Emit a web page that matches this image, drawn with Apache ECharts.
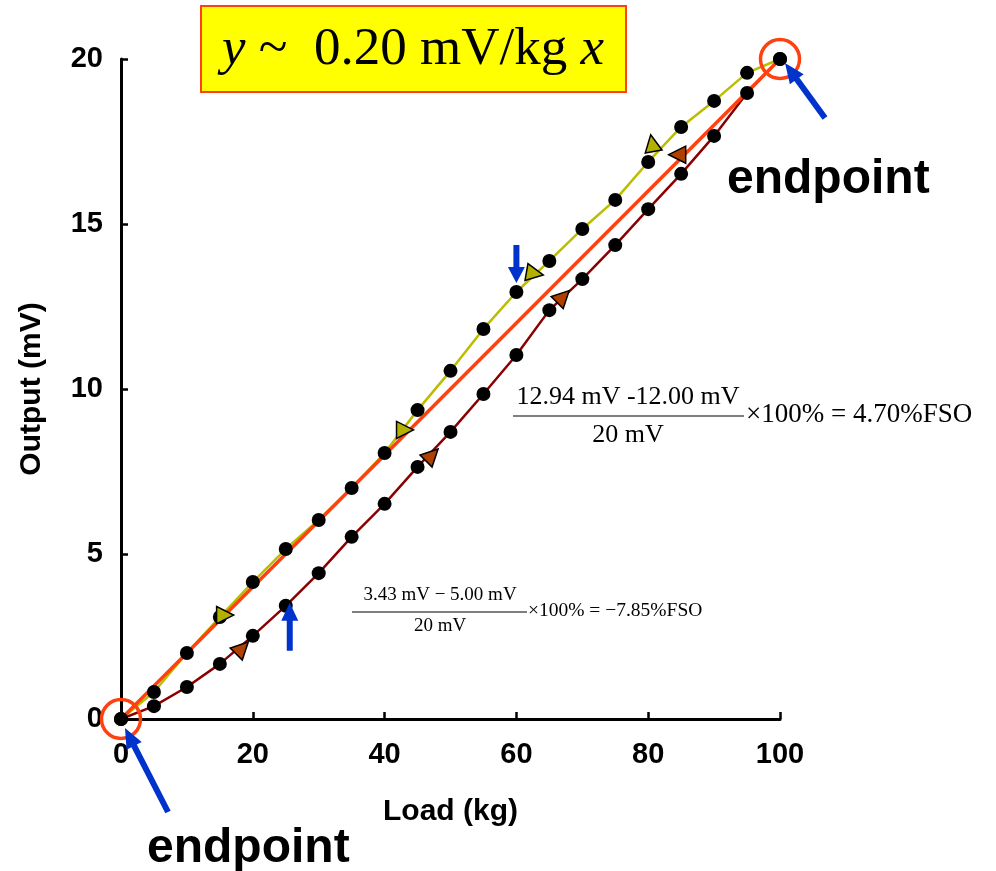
<!DOCTYPE html>
<html>
<head>
<meta charset="utf-8">
<script src="https://cdn.jsdelivr.net/npm/echarts@6/dist/echarts.min.js"></script>
<style>
html,body{margin:0;padding:0;background:#fff;}
#main{width:996px;height:871px;}
</style>
</head>
<body>
<div id="main"></div>
<script>
// load steps (kg)
var loads = [0, 5, 10, 15, 20, 25, 30, 35, 40, 45, 50, 55, 60, 65, 70, 75, 80, 85, 90, 95, 100];
// upper branch (mV)
var upperOutput = [0, 0.82, 2.0, 3.09, 4.15, 5.15, 6.03, 7.0, 8.06, 9.36, 10.55, 11.82, 12.94, 13.88, 14.85, 15.73, 16.88, 17.94, 18.73, 19.58, 20];
// lower branch (mV)
var lowerOutput = [0, 0.39, 0.97, 1.67, 2.52, 3.43, 4.42, 5.52, 6.52, 7.64, 8.70, 9.85, 11.03, 12.39, 13.33, 14.36, 15.45, 16.52, 17.67, 18.97, 20];
// end point fit line
var fitX = [0, 100];
var fitY = [0, 20];
// direction triangles
var upperArrowX = [15.8, 43.1, 62.8, 80.6];
var upperArrowY = [3.15, 8.76, 13.5, 17.45];
var upperArrowRot = [-90, -90, -100, 10];
var lowerArrowX = [18.4, 47.2, 67.1, 84.4];
var lowerArrowY = [2.15, 8.0, 12.8, 17.1];
var lowerArrowRot = [-45, -45, -45, 90];
var xTicks = [0, 20, 40, 60, 80, 100];
var yTicks = [0, 5, 10, 15, 20];

var SANS = "'Liberation Sans', Arial, sans-serif";
var SERIF = "'Liberation Serif', 'Times New Roman', serif";
var BLUE = '#0033cc';

function pairs(xs, ys) {
	return xs.map(function (x, i) { return [x, ys[i]]; });
}
function triangles(xs, ys, rot) {
	return xs.map(function (x, i) { return { value: [x, ys[i]], symbolRotate: rot[i] }; });
}

var chart = echarts.init(document.getElementById('main'));

chart.setOption({
	animation: false,
	backgroundColor: '#fff',
	grid: { left: 121, right: 216, top: 59, bottom: 152 },
	xAxis: {
		type: 'value', min: xTicks[0], max: xTicks[xTicks.length - 1], interval: 20,
		name: 'Load (kg)', nameLocation: 'middle', nameGap: 78,
		nameTextStyle: { fontFamily: SANS, fontWeight: 'bold', fontSize: 30, color: '#000' },
		axisLine: { lineStyle: { color: '#000', width: 3 } },
		axisTick: { inside: true, length: 7, lineStyle: { color: '#000', width: 2.5 } },
		axisLabel: { fontFamily: SANS, fontWeight: 'bold', fontSize: 29, color: '#000', margin: 21 },
		splitLine: { show: false }
	},
	yAxis: {
		type: 'value', min: yTicks[0], max: yTicks[yTicks.length - 1], interval: 5,
		name: 'Output (mV)', nameLocation: 'middle', nameGap: 74,
		nameTextStyle: { fontFamily: SANS, fontWeight: 'bold', fontSize: 30, color: '#000' },
		axisLine: { show: true, lineStyle: { color: '#000', width: 3 } },
		axisTick: { show: true, inside: true, length: 7, lineStyle: { color: '#000', width: 2.5 } },
		axisLabel: { fontFamily: SANS, fontWeight: 'bold', fontSize: 29, color: '#000', margin: 18 },
		splitLine: { show: false }
	},
	series: [
		{
			type: 'line', data: pairs(loads, upperOutput), showSymbol: false, z: 2,
			lineStyle: { color: '#bcbc00', width: 2.5 }
		},
		{
			type: 'line', data: pairs(loads, lowerOutput), showSymbol: false, z: 2,
			lineStyle: { color: '#8b0000', width: 2.5 }
		},
		{
			type: 'line', data: pairs(fitX, fitY), showSymbol: false, z: 3,
			lineStyle: { color: '#ff4010', width: 3.5 }
		},
		{
			type: 'scatter', data: pairs(loads, upperOutput), symbolSize: 14, z: 4,
			itemStyle: { color: '#000', opacity: 1 }
		},
		{
			type: 'scatter', data: pairs(loads, lowerOutput), symbolSize: 14, z: 4,
			itemStyle: { color: '#000', opacity: 1 }
		},
		{
			type: 'scatter', data: triangles(upperArrowX, upperArrowY, upperArrowRot), symbol: 'triangle', symbolSize: 17, z: 5,
			itemStyle: { color: '#b3b000', borderColor: '#000', borderWidth: 1.5, opacity: 1 }
		},
		{
			type: 'scatter', data: triangles(lowerArrowX, lowerArrowY, lowerArrowRot), symbol: 'triangle', symbolSize: 17, z: 5,
			itemStyle: { color: '#b04000', borderColor: '#000', borderWidth: 1.5, opacity: 1 }
		},
		{
			// endpoint rings
			type: 'scatter', data: pairs(fitX, fitY), symbolSize: 39, z: 6,
			itemStyle: { color: 'rgba(0,0,0,0)', borderColor: '#ff4010', borderWidth: 3.5, opacity: 1 }
		}
	]
});

function arrow(tail, tip, sw, hw, hl) {
	var dx = tip[0] - tail[0], dy = tip[1] - tail[1];
	var len = Math.sqrt(dx * dx + dy * dy);
	var ux = dx / len, uy = dy / len, nx = -uy, ny = ux;
	var bx = tip[0] - ux * hl, by = tip[1] - uy * hl;
	return {
		type: 'polygon', z: 20,
		shape: { points: [
			[tail[0] + nx * sw / 2, tail[1] + ny * sw / 2],
			[bx + nx * sw / 2, by + ny * sw / 2],
			[bx + nx * hw / 2, by + ny * hw / 2],
			tip,
			[bx - nx * hw / 2, by - ny * hw / 2],
			[bx - nx * sw / 2, by - ny * sw / 2],
			[tail[0] - nx * sw / 2, tail[1] - ny * sw / 2]
		] },
		style: { fill: BLUE }
	};
}
function px(x, y) { return chart.convertToPixel({ gridIndex: 0 }, [x, y]); }
function off(p, dx, dy) { return [p[0] + dx, p[1] + dy]; }

var pHi = px(60, upperOutput[12]);
var pLo = px(25, lowerOutput[5]);
var pEnd = px(100, 20);
var pZero = px(0, 0);

chart.setOption({
	graphic: [
		arrow(off(pHi, 0, -47), off(pHi, 0, -9), 6, 17, 16),
		arrow(off(pLo, 4, 45), off(pLo, 4, -3), 6, 17, 18),
		arrow(off(pEnd, 45, 59), off(pEnd, 5, 4), 6, 17, 20),
		arrow(off(pZero, 47, 93), off(pZero, 4, 9), 6, 17, 20),
		{
			type: 'text', left: 727, top: 156, z: 20,
			style: { text: 'endpoint', font: 'bold 48px ' + SANS, fill: '#000' }
		},
		{
			type: 'text', left: 147, top: 825, z: 20,
			style: { text: 'endpoint', font: 'bold 48px ' + SANS, fill: '#000' }
		},
		// equation box
		{
			type: 'rect', z: 20,
			shape: { x: 201, y: 6, width: 425, height: 86 },
			style: { fill: '#ffff00', stroke: '#ff4010', lineWidth: 2 }
		},
		{
			type: 'text', z: 21, x: 413, y: 50,
			style: {
				text: '{i|y} ~  0.20 mV/kg {i|x}',
				font: '53px ' + SERIF, fill: '#000', align: 'center', verticalAlign: 'middle',
				rich: { i: { fontStyle: 'italic', fontFamily: SERIF, fontSize: 53 } }
			}
		},
		// non-linearity formula, upper branch
		{
			type: 'text', z: 21, x: 628, y: 397,
			style: { text: '12.94 mV -12.00 mV', font: '26px ' + SERIF, fill: '#000', align: 'center', verticalAlign: 'middle' }
		},
		{
			type: 'line', z: 21, shape: { x1: 513, y1: 416, x2: 744, y2: 416 },
			style: { stroke: '#000', lineWidth: 1.2 }
		},
		{
			type: 'text', z: 21, x: 628, y: 435,
			style: { text: '20 mV', font: '26px ' + SERIF, fill: '#000', align: 'center', verticalAlign: 'middle' }
		},
		{
			type: 'text', z: 21, x: 746, y: 415,
			style: { text: '×100% = 4.70%FSO', font: '27px ' + SERIF, fill: '#000', align: 'left', verticalAlign: 'middle' }
		},
		// lower branch
		{
			type: 'text', z: 21, x: 440, y: 595,
			style: { text: '3.43 mV − 5.00 mV', font: '19px ' + SERIF, fill: '#000', align: 'center', verticalAlign: 'middle' }
		},
		{
			type: 'line', z: 21, shape: { x1: 352, y1: 612, x2: 527, y2: 612 },
			style: { stroke: '#000', lineWidth: 1 }
		},
		{
			type: 'text', z: 21, x: 440, y: 626,
			style: { text: '20 mV', font: '19px ' + SERIF, fill: '#000', align: 'center', verticalAlign: 'middle' }
		},
		{
			type: 'text', z: 21, x: 528, y: 611,
			style: { text: '×100% = −7.85%FSO', font: '19.5px ' + SERIF, fill: '#000', align: 'left', verticalAlign: 'middle' }
		}
	]
});
</script>
</body>
</html>
